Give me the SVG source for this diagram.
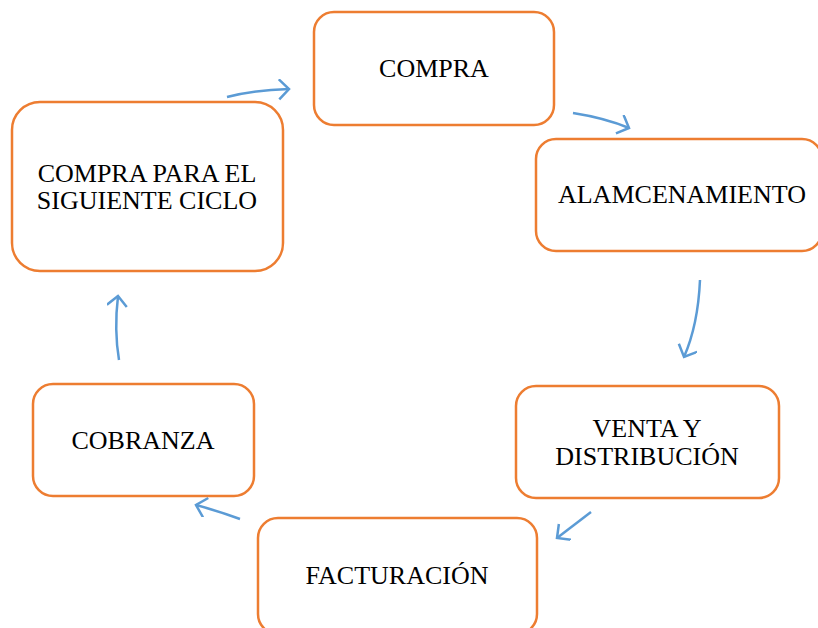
<svg xmlns="http://www.w3.org/2000/svg" width="818" height="628" viewBox="0 0 818 628">
<style>
.box{fill:#fff;stroke:#ED7D31;stroke-width:2.5}
.lbl{font-family:"Liberation Serif","Times New Roman",serif;font-size:26px;fill:#000;text-anchor:middle}
.arr{fill:none;stroke:#5B9BD5;stroke-width:2.5;marker-end:url(#ah)}
</style>
<defs>
<marker id="ah" markerWidth="24" markerHeight="24" refX="11" refY="10" orient="auto" markerUnits="userSpaceOnUse" viewBox="0 0 24 24">
<path d="M1,0 L11,10 L1,20" fill="none" stroke="#5B9BD5" stroke-width="2.5"/>
</marker>
</defs>
<rect width="818" height="628" fill="#fff"/>
<g id="connectors">
<path class="arr" d="M227,97 Q255,90 289,89"/>
<path class="arr" d="M573,113 Q605,118 629,128"/>
<path class="arr" d="M700,280 Q698,325 684,357"/>
<path class="arr" d="M591,512 L557,538"/>
<path class="arr" d="M240,519 Q218,511 196,505"/>
<path class="arr" d="M119,360 Q114,330 118,296"/>
</g>
<g id="compra">
<rect class="box" x="314" y="12" width="240" height="113" rx="20"/>
<text class="lbl" x="434" y="77">COMPRA</text>
</g>
<g id="almacenamiento">
<rect class="box" x="536" y="139" width="286" height="112" rx="20"/>
<text class="lbl" x="682" y="203">ALAMCENAMIENTO</text>
</g>
<g id="venta">
<rect class="box" x="516" y="386" width="263" height="112" rx="20"/>
<text class="lbl" x="647" y="437">VENTA Y</text>
<text class="lbl" x="647" y="465">DISTRIBUCIÓN</text>
</g>
<g id="facturacion">
<rect class="box" x="258" y="518" width="279" height="116" rx="20"/>
<text class="lbl" x="397" y="584">FACTURACIÓN</text>
</g>
<g id="cobranza">
<rect class="box" x="33" y="384" width="221" height="112" rx="20"/>
<text class="lbl" x="143" y="449">COBRANZA</text>
</g>
<g id="compra-siguiente">
<rect class="box" x="12" y="102" width="271" height="169" rx="28"/>
<text class="lbl" x="147" y="182">COMPRA PARA EL</text>
<text class="lbl" x="147" y="209">SIGUIENTE CICLO</text>
</g>
</svg>
